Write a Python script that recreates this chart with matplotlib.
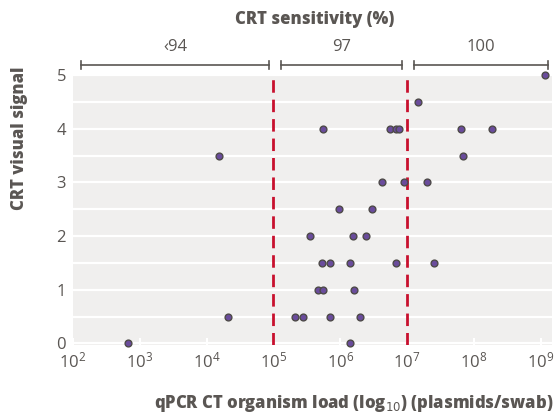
import matplotlib
matplotlib.use("Agg")
import matplotlib.pyplot as plt
import matplotlib.transforms as mtransforms
import numpy as np

plt.rcParams['font.family'] = ['Open Sans', 'DejaVu Sans']

# organism load as log10 values, grouped by visual signal
signal = [5, 4.5,
          4, 4, 4, 4, 4, 4,
          3.5, 3.5,
          3, 3, 3,
          2.5, 2.5,
          2, 2, 2,
          1.5, 1.5, 1.5, 1.5, 1.5,
          1, 1, 1,
          0.5, 0.5, 0.5, 0.5, 0.5,
          0, 0]
log_load = [9.07, 7.17,
            5.74, 6.74, 6.83, 6.88, 7.81, 8.27,
            4.18, 7.84,
            6.62, 6.95, 7.30,
            5.98, 6.48,
            5.55, 6.19, 6.39,
            5.73, 5.84, 6.15, 6.84, 7.40,
            5.66, 5.74, 6.20,
            4.32, 5.32, 5.44, 5.84, 6.30,
            2.83, 6.15]

cutoffs = [1e5, 1e7]
bracket_labels = ['\u203994', '97', '100']
bracket_spans = [(10**2.12, 10**4.94), (10**5.12, 10**6.93), (10**7.11, 10**9.11)]

grey = '#5a5653'

fig = plt.figure(figsize=(5.55, 4.16), dpi=100)
ax = fig.add_axes([73/555, 1-345/416, (552-73)/555, (345-75)/416])
ax.set_facecolor('#f0efee')

ax.set_xscale('log')
ax.set_xlim(1e2, 10**9.17)
ax.set_ylim(-0.03, 5.0)

for s in ax.spines.values():
    s.set_visible(False)

ax.set_yticks([0, 1, 2, 3, 4, 5])
ax.set_yticks(np.arange(0.5, 5, 1), minor=True)
ax.set_xticks([10**k for k in range(2, 10)])
ax.xaxis.set_minor_locator(matplotlib.ticker.NullLocator())
ax.grid(True, axis='y', which='both', color='white', lw=1.6)
ax.set_axisbelow(True)
ax.tick_params(axis='x', which='major', direction='in', color='white', width=1.5, length=5,
               labelsize=12, labelcolor=grey, pad=5)
ax.tick_params(axis='y', which='both', length=0, labelsize=12, labelcolor=grey, pad=5)

for c in cutoffs:
    ax.axvline(c, color='#c8102e', lw=2, ls=(0, (4.5, 2.5)), zorder=2)

ax.scatter(10**np.array(log_load), signal, s=24, color='#6a4c9c', edgecolor='#4d4a48',
           linewidth=1, zorder=3, clip_on=False)

# sensitivity brackets above the plot
trans = mtransforms.blended_transform_factory(ax.transData, ax.transAxes)
yb = 1.037
for (x0, x1), lab in zip(bracket_spans, bracket_labels):
    ax.plot([x0, x1], [yb, yb], color=grey, lw=1.2, transform=trans, clip_on=False)
    for xe in (x0, x1):
        ax.plot([xe, xe], [yb - 0.016, yb + 0.016], color=grey, lw=1.2, transform=trans,
                clip_on=False)
    xm = np.sqrt(x0 * x1)
    ax.text(xm, 1.105, lab, transform=trans, ha='center', va='center', fontsize=12,
            color=grey)

fig.text(315/555, 1-20/416, 'CRT sensitivity (%)', ha='center', va='center',
         fontsize=12, fontweight='heavy', color=grey)
fig.text(20/555, 1-138/416, 'CRT visual signal', ha='center', va='center', rotation=90,
         fontsize=12, fontweight='heavy', color=grey)
fig.text(553/555, 1-404/416, 'qPCR CT organism load (log$_{10}$) (plasmids/swab)',
         ha='right', va='center', fontsize=12, fontweight='heavy', color=grey)

fig.savefig('out.png', dpi=100)
